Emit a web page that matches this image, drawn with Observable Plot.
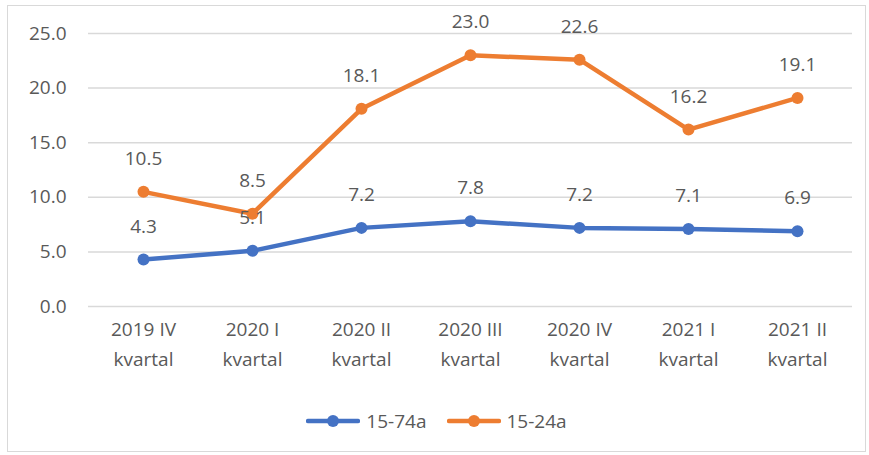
<!DOCTYPE html>
<html>
<head>
<meta charset="utf-8">
<script src="https://cdn.jsdelivr.net/npm/d3@7"></script>
<script src="https://cdn.jsdelivr.net/npm/@observablehq/plot@0.6"></script>
<style>
  html, body { margin: 0; padding: 0; background: #fff; }
  body { width: 869px; height: 455px; position: relative; overflow: hidden; font-family: "Open Sans", sans-serif; }
  #frame { position: absolute; left: 7px; top: 5px; width: 857px; height: 445px; border: 1px solid #d9d9d9; background: #fff; }
  #chart { position: absolute; left: 0; top: 0; }
  #legend { position: absolute; left: 0; width: 857px; top: 402px; display: flex; justify-content: center; align-items: center; gap: 20px; color: #595959; font-size: 19px; }
  .item { display: flex; align-items: center; gap: 6px; }
</style>
</head>
<body>
<div id="frame">
  <div id="chart"></div>
  <div id="legend"></div>
</div>
<script>
const categories = ["2019 IV\nkvartal", "2020 I\nkvartal", "2020 II\nkvartal", "2020 III\nkvartal", "2020 IV\nkvartal", "2021 I\nkvartal", "2021 II\nkvartal"];
const series1Name = "15-74a";
const series1 = [4.3, 5.1, 7.2, 7.8, 7.2, 7.1, 6.9];
const series2Name = "15-24a";
const series2 = [10.5, 8.5, 18.1, 23.0, 22.6, 16.2, 19.1];
const yTicks = [0, 5, 10, 15, 20, 25];
const colors = {[series1Name]: "#4472C4", [series2Name]: "#ED7D31"};

const data = [];
categories.forEach((c, i) => {
  data.push({cat: c, value: series1[i], series: series1Name});
  data.push({cat: c, value: series2[i], series: series2Name});
});

const fmt = d3.format(".1f");
const plot = Plot.plot({
  width: 857,
  height: 380,
  marginLeft: 80,
  marginRight: 13,
  marginTop: 27,
  marginBottom: 80,
  style: {fontFamily: "Open Sans, sans-serif", fontSize: "19px", color: "#595959", background: "transparent"},
  x: {type: "point", domain: categories, padding: 0.5, label: null},
  y: {domain: [0, 25], label: null},
  color: {domain: [series1Name, series2Name], range: [colors[series1Name], colors[series2Name]]},
  marks: [
    Plot.gridY(yTicks, {stroke: "#d9d9d9", strokeOpacity: 1, strokeWidth: 1.5}),
    Plot.axisY(yTicks, {tickSize: 0, tickPadding: 22, tickFormat: fmt, fill: "#595959", fontSize: 19, label: null}),
    Plot.axisX({tickSize: 0, tickPadding: 8, lineHeight: 1.58, fill: "#595959", fontSize: 19, label: null}),
    Plot.line(data, {x: "cat", y: "value", z: "series", stroke: "series", strokeWidth: 4.5, curve: "linear"}),
    Plot.dot(data, {x: "cat", y: "value", fill: "series", r: 6, stroke: null}),
    Plot.text(data, {x: "cat", y: "value", text: d => fmt(d.value), dy: -33, fill: "#595959", fontSize: 19})
  ]
});
document.getElementById("chart").appendChild(plot);

const legend = document.getElementById("legend");
[series1Name, series2Name].forEach(name => {
  const item = document.createElement("div");
  item.className = "item";
  item.innerHTML = `<svg width="54" height="14"><line x1="2" y1="7" x2="52" y2="7" stroke="${colors[name]}" stroke-width="4.5" stroke-linecap="round"/><circle cx="27" cy="7" r="6" fill="${colors[name]}"/></svg><span>${name}</span>`;
  legend.appendChild(item);
});
</script>
</body>
</html>
